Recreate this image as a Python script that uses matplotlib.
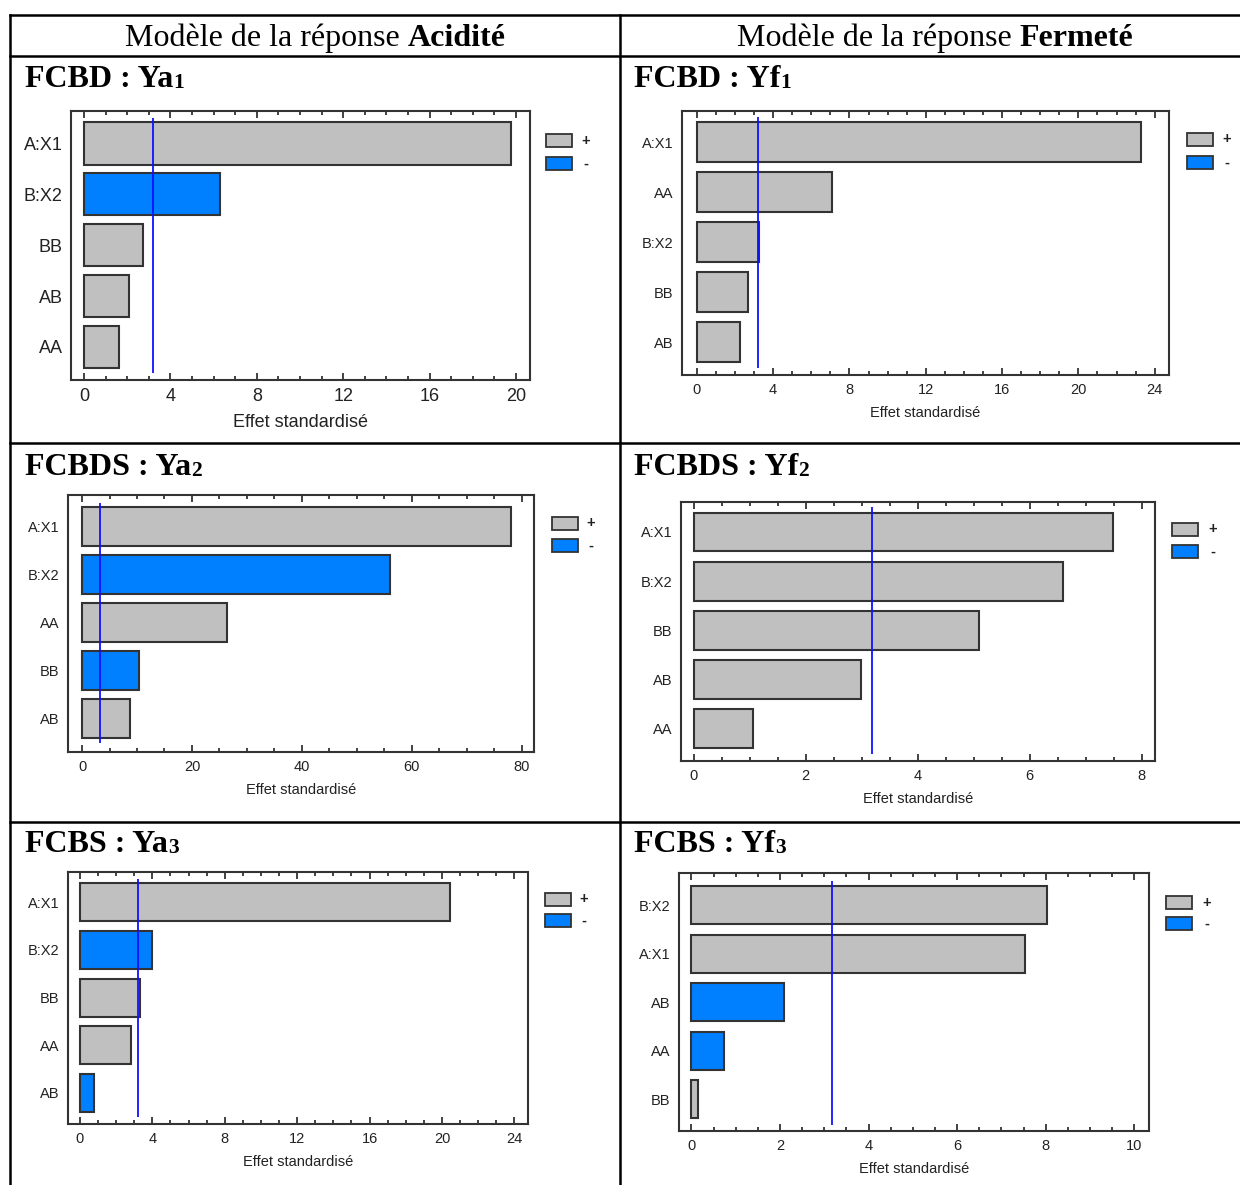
import numpy as np
import matplotlib
matplotlib.use("Agg")
import matplotlib.pyplot as plt
from matplotlib.patches import Rectangle
from matplotlib.ticker import MultipleLocator

# data : signed standardized effects (negative -> "-" bar)
ya1_terms = ['A:X1', 'B:X2', 'BB', 'AB', 'AA']
ya1_effects = [19.75, -6.29, 2.74, 2.10, 1.60]

yf1_terms = ['A:X1', 'AA', 'B:X2', 'BB', 'AB']
yf1_effects = [23.3, 7.08, 3.25, 2.67, 2.25]

ya2_terms = ['A:X1', 'B:X2', 'AA', 'BB', 'AB']
ya2_effects = [78.1, -56.0, 26.4, -10.4, 8.8]

yf2_terms = ['A:X1', 'B:X2', 'BB', 'AB', 'AA']
yf2_effects = [7.49, 6.59, 5.09, 2.99, 1.05]

ya3_terms = ['A:X1', 'B:X2', 'BB', 'AA', 'AB']
ya3_effects = [20.45, -4.0, 3.33, 2.82, -0.75]

yf3_terms = ['B:X2', 'A:X1', 'AB', 'AA', 'BB']
yf3_effects = [8.03, 7.54, -2.08, -0.73, 0.15]

t_crit = 3.18

GRAY = '#c0c0c0'
BLUE = '#0080ff'
EDGE = '#333333'
SANS = ['Liberation Sans', 'DejaVu Sans']
SERIF = ['Liberation Serif', 'DejaVu Serif']

W, H = 1240, 1185
fig = plt.figure(figsize=(W / 100, H / 100), dpi=100)


def fx(x):
    return x / W


def fy(y):
    return 1 - y / H


def pareto(terms, effects, box, xlim, ylim, major, minor, fs, bar_h,
           leg, title, sub, title_xy, ticklab_pad=6, labelpad=6):
    x0, y0, x1, y1 = box
    ax = fig.add_axes([fx(x0), fy(y1), (x1 - x0) / W, (y1 - y0) / H])
    pos = np.arange(len(terms))
    vals = np.abs(effects)
    cols = [GRAY if e > 0 else BLUE for e in effects]
    ax.barh(pos, vals, height=bar_h, color=cols, edgecolor=EDGE, linewidth=1.5)
    ax.vlines(t_crit, -0.5, 4.52, color='#1010ff', linewidth=1.3)
    ax.set_xlim(*xlim)
    ax.set_ylim(*ylim)
    ax.set_yticks(pos)
    ax.set_yticklabels(terms, fontsize=fs, family=SANS, color='#222222')
    ax.xaxis.set_major_locator(MultipleLocator(major))
    ax.xaxis.set_minor_locator(MultipleLocator(minor))
    for lab in ax.get_xticklabels():
        lab.set_family(SANS)
    ax.tick_params(axis='x', which='both', direction='in', top=True,
                   labelsize=fs, colors='#222222', pad=ticklab_pad, width=1.2)
    ax.tick_params(axis='x', which='major', length=5)
    ax.tick_params(axis='x', which='minor', length=3)
    ax.tick_params(axis='y', length=0, pad=6)
    for s in ax.spines.values():
        s.set_color(EDGE)
        s.set_linewidth(1.5)
    ax.set_xlabel('Effet standardisé', fontsize=fs, family=SANS,
                  color='#222222', labelpad=labelpad)

    # legend boxes
    lx, ly1, ly2, tx = leg
    for yy, c, s in [(ly1, GRAY, '+'), (ly2, BLUE, '-')]:
        fig.add_artist(Rectangle((fx(lx), fy(yy + 13)), 26 / W, 13 / H,
                                 transform=fig.transFigure, facecolor=c,
                                 edgecolor=EDGE, linewidth=1.3))
        fig.text(fx(tx), fy(yy + 6.5), s, fontsize=10.5, family=SANS,
                 fontweight='bold', ha='center', va='center', color='#222222')

    # panel title with small index
    t = fig.text(fx(title_xy[0]), fy(title_xy[1]), title, fontsize=23,
                 family=SERIF, fontweight='bold', va='baseline')
    fig.add_artist(plt.Annotation(sub, xy=(1, H - title_xy[1] - 1),
                                  xycoords=(t, 'figure pixels'),
                                  fontsize=15.5, family=SERIF,
                                  fontweight='bold', va='baseline'))
    return ax


pareto(ya1_terms, ya1_effects, (71, 111, 530, 380), (-0.6, 20.65), (4.65, -0.64),
       4, 1, 13, 0.83, (546, 134, 157, 586), 'FCBD : Ya', '1', (25, 87))
pareto(yf1_terms, yf1_effects, (682, 111, 1169, 375), (-0.78, 24.75), (4.66, -0.62),
       4, 1, 10.5, 0.8, (1187, 133, 156, 1227), 'FCBD : Yf', '1', (634, 87))
pareto(ya2_terms, ya2_effects, (68, 495, 534, 752), (-2.55, 82.2), (4.70, -0.66),
       20, 5, 10.5, 0.8, (552, 517, 539, 591), 'FCBDS : Ya', '2', (25, 475))
pareto(yf2_terms, yf2_effects, (681, 502, 1155, 761), (-0.23, 8.24), (4.66, -0.61),
       2, 0.5, 10.5, 0.79, (1172, 523, 545, 1213), 'FCBDS : Yf', '2', (634, 475))
pareto(ya3_terms, ya3_effects, (68, 872, 528, 1124), (-0.66, 24.75), (4.66, -0.64),
       4, 1, 10.5, 0.8, (545, 893, 914, 584), 'FCBS : Ya', '3', (25, 852))
pareto(yf3_terms, yf3_effects, (679, 873, 1149, 1131), (-0.28, 10.33), (4.65, -0.66),
       2, 0.5, 10.5, 0.78, (1166, 896, 917, 1207), 'FCBS : Yf', '3', (634, 852))

# table grid
lw = 1.8
for y in [15, 56, 443, 822]:
    fig.add_artist(plt.Line2D([fx(10), 1], [fy(y), fy(y)], color='black',
                              linewidth=lw, transform=fig.transFigure))
for x in [10, 620]:
    fig.add_artist(plt.Line2D([fx(x), fx(x)], [fy(15), 0], color='black',
                              linewidth=lw, transform=fig.transFigure))

# column headers
for x_start, word in [(125, 'Acidité'), (737, 'Fermeté')]:
    h = fig.text(fx(x_start), fy(46), 'Modèle de la réponse', fontsize=23,
                 family=SERIF, va='baseline')
    fig.add_artist(plt.Annotation(word, xy=(1, H - 46),
                                  xycoords=(h, 'figure pixels'),
                                  xytext=(5.7, 0), textcoords='offset points',
                                  fontsize=23, family=SERIF,
                                  fontweight='bold', va='baseline'))

fig.savefig('out.png', dpi=100)
